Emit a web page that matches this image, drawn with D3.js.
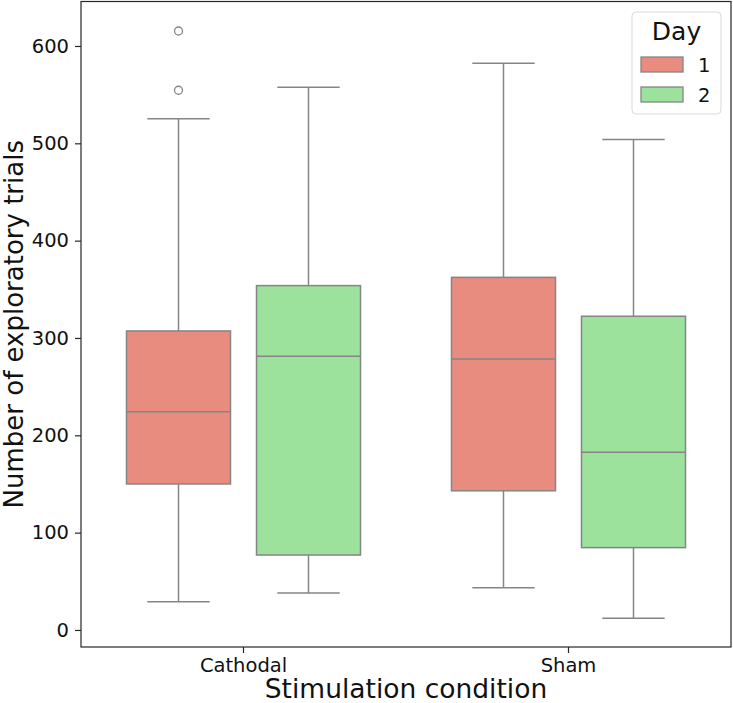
<!DOCTYPE html>
<html>
<head>
<meta charset="utf-8">
<script src="https://cdn.jsdelivr.net/npm/d3@7"></script>
<style>
  body { margin: 0; background: #ffffff; }
  text { font-family: "DejaVu Sans", sans-serif; fill: #111111; }
</style>
</head>
<body>
<div id="chart"></div>
<script>
// Box plot: exploratory trials by stimulation condition and day

const conditions = ["Cathodal", "Sham"];
const days = ["1", "2"];
const dayColors = ["#e88c80", "#9de29c"];

// one entry per box, order: Cathodal/1, Cathodal/2, Sham/1, Sham/2
const boxCondition = ["Cathodal", "Cathodal", "Sham", "Sham"];
const boxDay = ["1", "2", "1", "2"];
const whiskerLow = [29, 38, 43.5, 12];
const q1 = [150, 77, 143, 84.6];
const medians = [224.3, 281.2, 278.4, 182.6];
const q3 = [307.2, 353.8, 362.3, 322.3];
const whiskerHigh = [525.3, 557.6, 582.2, 503.8];
const outliers = [[554.5, 615.4], [], [], []];

const yTicks = [0, 100, 200, 300, 400, 500, 600];

const width = 733, height = 703;
const margin = { top: 1.5, right: 2, bottom: 56, left: 81 };
const lineColor = "#858585";

const svg = d3.select("#chart")
    .append("svg")
    .attr("width", width)
    .attr("height", height);

const x = d3.scaleBand()
    .domain(conditions)
    .range([margin.left, width - margin.right])
    .padding(0);

const xDay = d3.scaleBand()
    .domain(days)
    .range([0, x.bandwidth()])
    .paddingInner(0.2)
    .paddingOuter(0.35);

const y = d3.scaleLinear()
    .domain([-17.5, 645.7])
    .range([height - margin.bottom, margin.top]);

const color = d3.scaleOrdinal().domain(days).range(dayColors);

// axes
const xAxis = svg.append("g")
    .attr("transform", `translate(0,${height - margin.bottom})`)
    .call(d3.axisBottom(x).tickSize(6).tickPadding(5));
xAxis.select(".domain").remove();
xAxis.selectAll("line").attr("stroke", "#262626").attr("stroke-width", 1.2);
xAxis.selectAll("text").attr("font-size", "19.5px").attr("fill", "#111111");

const yAxis = svg.append("g")
    .attr("transform", `translate(${margin.left},0)`)
    .call(d3.axisLeft(y).tickValues(yTicks).tickSize(6).tickPadding(6));
yAxis.select(".domain").remove();
yAxis.selectAll("line").attr("stroke", "#262626").attr("stroke-width", 1.2);
yAxis.selectAll("text").attr("font-size", "19.5px").attr("fill", "#111111");

// boxes
const boxes = boxCondition.map((c, i) => ({
    condition: c, day: boxDay[i],
    lo: whiskerLow[i], q1: q1[i], med: medians[i], q3: q3[i], hi: whiskerHigh[i],
    out: outliers[i]
}));

const bw = xDay.bandwidth();
const capW = bw / 2 * 0.6;

const g = svg.append("g");
boxes.forEach(d => {
    const x0 = x(d.condition) + xDay(d.day);
    const cx = x0 + bw / 2;
    const bg = g.append("g");

    // whiskers
    bg.append("line")
        .attr("x1", cx).attr("x2", cx)
        .attr("y1", y(d.q3)).attr("y2", y(d.hi))
        .attr("stroke", lineColor).attr("stroke-width", 1.5);
    bg.append("line")
        .attr("x1", cx).attr("x2", cx)
        .attr("y1", y(d.q1)).attr("y2", y(d.lo))
        .attr("stroke", lineColor).attr("stroke-width", 1.5);
    // caps
    [d.lo, d.hi].forEach(v => {
        bg.append("line")
            .attr("x1", cx - capW).attr("x2", cx + capW)
            .attr("y1", y(v)).attr("y2", y(v))
            .attr("stroke", lineColor).attr("stroke-width", 1.5);
    });
    // box
    bg.append("rect")
        .attr("x", x0).attr("width", bw)
        .attr("y", y(d.q3)).attr("height", y(d.q1) - y(d.q3))
        .attr("fill", color(d.day))
        .attr("stroke", lineColor).attr("stroke-width", 1.5);
    // median
    bg.append("line")
        .attr("x1", x0).attr("x2", x0 + bw)
        .attr("y1", y(d.med)).attr("y2", y(d.med))
        .attr("stroke", lineColor).attr("stroke-width", 1.5);
    // outliers
    d.out.forEach(v => {
        bg.append("circle")
            .attr("cx", cx).attr("cy", y(v)).attr("r", 4)
            .attr("fill", "none")
            .attr("stroke", lineColor).attr("stroke-width", 1.3);
    });
});

// frame
svg.append("rect")
    .attr("x", margin.left).attr("y", margin.top)
    .attr("width", width - margin.right - margin.left)
    .attr("height", height - margin.bottom - margin.top)
    .attr("fill", "none")
    .attr("stroke", "#262626").attr("stroke-width", 1.2);

// axis labels
svg.append("text")
    .attr("x", (margin.left + width - margin.right) / 2)
    .attr("y", 698)
    .attr("text-anchor", "middle")
    .attr("font-size", "26.5px")
    .text("Stimulation condition");

svg.append("text")
    .attr("transform", `translate(23,${(margin.top + height - margin.bottom) / 2}) rotate(-90)`)
    .attr("text-anchor", "middle")
    .attr("font-size", "26px")
    .text("Number of exploratory trials");

// legend
const legend = svg.append("g").attr("transform", "translate(632,12)");
legend.append("rect")
    .attr("width", 89).attr("height", 102)
    .attr("rx", 4)
    .attr("fill", "#ffffff").attr("fill-opacity", 0.8)
    .attr("stroke", "#d9d9d9").attr("stroke-width", 1);
legend.append("text")
    .attr("x", 44.5).attr("y", 28)
    .attr("text-anchor", "middle")
    .attr("font-size", "25px")
    .text("Day");
days.forEach((d, i) => {
    legend.append("rect")
        .attr("x", 9).attr("y", 45 + i * 30)
        .attr("width", 42).attr("height", 15)
        .attr("fill", color(d))
        .attr("stroke", lineColor).attr("stroke-width", 1.3);
    legend.append("text")
        .attr("x", 66).attr("y", 59.5 + i * 30)
        .attr("font-size", "19.5px")
        .text(d);
});
</script>
</body>
</html>
